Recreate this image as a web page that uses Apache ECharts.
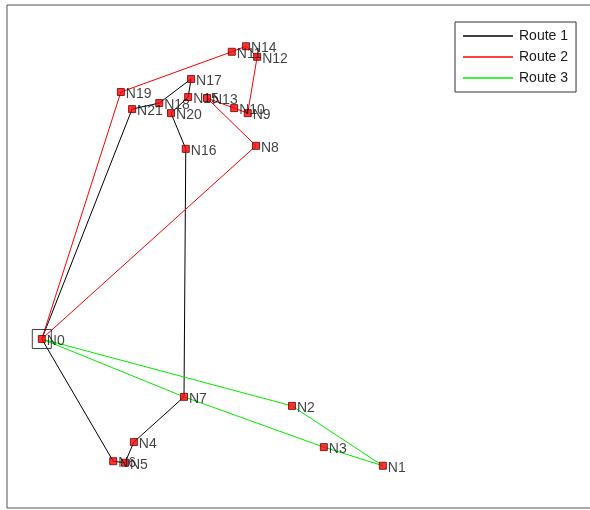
<!DOCTYPE html>
<html>
<head>
<meta charset="utf-8">
<script src="https://cdn.jsdelivr.net/npm/echarts@6/dist/echarts.min.js"></script>
<style>
  html, body { margin: 0; padding: 0; background: #fff; }
  #chart { width: 590px; height: 510px; }
</style>
</head>
<body>
<div id="chart"></div>
<script>
// Node names and coordinates
const nodeNames = ['N0','N1','N2','N3','N4','N5','N6','N7','N8','N9','N10','N11',
                   'N12','N13','N14','N15','N16','N17','N18','N19','N20','N21'];
const nodeX = [5.9, 63.7, 48.3, 53.7, 21.5, 20.0, 18.0, 30.0, 42.2, 40.8, 38.5, 38.1,
               42.4, 33.9, 40.5, 30.7, 30.3, 31.2, 25.8, 19.3, 27.8, 21.2];
const nodeY = [33.6, 8.4, 20.3, 12.1, 13.1, 9.0, 9.3, 22.1, 72.0, 78.5, 79.5, 90.7,
               89.7, 81.5, 91.8, 81.7, 71.4, 85.3, 80.5, 82.7, 78.5, 79.3];

// Visiting order of each route (node indices), starting and ending at the depot N0
const routeNames = ['Route 1', 'Route 2', 'Route 3'];
const route1 = [0, 21, 18, 17, 15, 20, 16, 7, 4, 5, 6, 0];
const route2 = [0, 19, 11, 14, 12, 9, 10, 13, 8, 0];
const route3 = [0, 2, 1, 3, 7, 0];
const routeColors = ['#000000', '#ff0000', '#00ee00'];

const depotIndex = 0;

const routes = [route1, route2, route3];
const pt = i => [nodeX[i], nodeY[i]];

const lineSeries = routes.map((r, k) => ({
  name: routeNames[k],
  type: 'line',
  data: r.map(pt),
  symbol: 'none',
  lineStyle: { color: routeColors[k], width: 1 },
  itemStyle: { color: routeColors[k] },
  z: 2,
  silent: true,
  animation: false
}));

const nodeSeries = {
  name: 'nodes',
  type: 'scatter',
  data: nodeNames.map((n, i) => ({ value: pt(i), name: n })),
  symbol: 'rect',
  symbolSize: 7,
  itemStyle: { color: '#ff0000', borderColor: '#660000', borderWidth: 1 },
  label: {
    show: true,
    position: 'right',
    distance: 0,
    offset: [1, 2],
    formatter: p => p.name,
    fontFamily: 'Liberation Sans, Arial, sans-serif',
    fontSize: 14,
    color: '#111'
  },
  z: 5,
  animation: false
};

const depotSeries = {
  name: 'depot',
  type: 'scatter',
  data: [pt(depotIndex)],
  symbol: 'rect',
  symbolSize: 19,
  itemStyle: { color: 'rgba(0,0,0,0)', borderColor: '#111', borderWidth: 1 },
  z: 4,
  silent: true,
  animation: false
};

const chart = echarts.init(document.getElementById('chart'), null, { renderer: 'canvas' });
chart.setOption({
  backgroundColor: '#ffffff',
  animation: false,
  grid: {
    show: true,
    left: 7, top: 5, width: 590, height: 503,
    outerBoundsMode: 'none',
    containLabel: false,
    borderColor: '#555', borderWidth: 1,
    backgroundColor: '#ffffff'
  },
  xAxis: {
    type: 'value', min: 0, max: 100,
    axisLine: { show: false }, axisTick: { show: false },
    axisLabel: { show: false }, splitLine: { show: false }
  },
  yAxis: {
    type: 'value', min: 0, max: 100,
    axisLine: { show: false }, axisTick: { show: false },
    axisLabel: { show: false }, splitLine: { show: false }
  },
  legend: {
    data: routeNames.map((n, k) => ({ name: n, icon: 'rect', itemStyle: { color: routeColors[k] } })),
    orient: 'vertical',
    left: 455, top: 22,
    padding: [6, 8, 6, 8],
    itemWidth: 50, itemHeight: 1.5, itemGap: 5,
    borderColor: '#333', borderWidth: 1,
    backgroundColor: '#fff',
    textStyle: { fontFamily: 'Liberation Sans, Arial, sans-serif', fontSize: 14, lineHeight: 16, color: '#1a1a1a', padding: [0, 0, 0, 1] },
    selectedMode: false
  },
  series: [...lineSeries, depotSeries, nodeSeries]
});
</script>
</body>
</html>
